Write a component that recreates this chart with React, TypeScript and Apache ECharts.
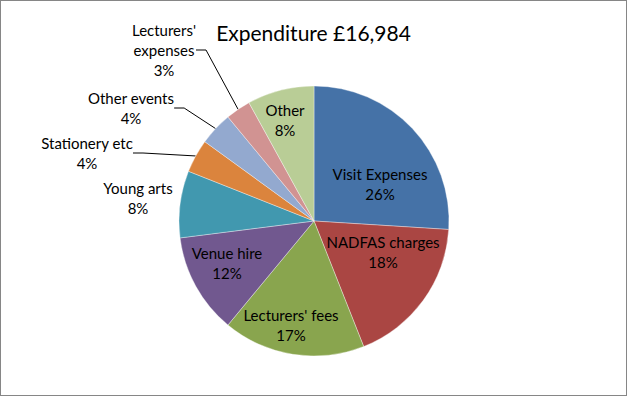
import React, { useEffect, useRef } from "react";
import * as echarts from "echarts";

const titleText = "Expenditure £16,984";
const categories = [
  "Visit Expenses",
  "NADFAS charges",
  "Lecturers' fees",
  "Venue hire",
  "Young arts",
  "Stationery etc",
  "Other events",
  "Lecturers'\nexpenses",
  "Other",
];
const percentValues = [26, 18, 17, 12, 8, 4, 4, 3, 8];

const colors = ["#4572A7", "#AA4643", "#89A54E", "#71588F", "#4198AF", "#DB843D", "#93A9CF", "#D19392", "#B9CD96"];
// label centre positions (layout only)
const labelPos: [number, number][] = [
  [379, 183],
  [382, 251],
  [290, 324],
  [226, 262],
  [137, 197],
  [86, 152],
  [130, 107],
  [163, 49],
  [284, 119],
];
const outsideWithLine = [false, false, false, false, false, true, true, true, false];
const outside = [false, false, false, false, true, true, true, true, false];

export default function App() {
  const ref = useRef<HTMLDivElement>(null);
  useEffect(() => {
    document.body.style.margin = "0";
    if (!ref.current) return;
    const chart = echarts.init(ref.current, null, { renderer: "svg" });
    const data = categories.map((name, i) => ({
      name,
      value: percentValues[i],
      itemStyle: { color: colors[i] },
      label: { position: outside[i] ? "outside" : "inside" },
      labelLine: { show: outsideWithLine[i] },
    }));
    chart.setOption({
      animation: false,
      title: {
        text: titleText,
        left: "center",
        top: 16,
        textStyle: { fontFamily: "Lato", fontSize: 21, fontWeight: "normal", color: "#000" },
      },
      series: [
        {
          type: "pie",
          center: [313, 220],
          radius: 135,
          startAngle: 90,
          clockwise: true,
          data,
          itemStyle: { borderColor: "rgba(255,255,255,0.6)", borderWidth: 0.6 },
          label: {
            show: true,
            formatter: (p: any) => `${p.name}\n${Math.round(p.percent)}%`,
            fontFamily: "Lato",
            fontSize: 15,
            lineHeight: 20,
            color: "#000",
            align: "center",
          },
          labelLine: {
            show: true,
            length: 15,
            length2: 10,
            lineStyle: { color: "#000", width: 1 },
          },
          labelLayout: (params: any) => {
            const p = labelPos[params.dataIndex];
            return { x: p[0], y: p[1], align: "center", verticalAlign: "middle" };
          },
          emphasis: { disabled: true },
        },
      ],
    });
    return () => chart.dispose();
  }, []);
  return (
    <div style={{ width: 627, height: 396, boxSizing: "border-box", border: "1px solid #868686", background: "#fff" }}>
      <div ref={ref} style={{ width: 625, height: 394 }} />
    </div>
  );
}
